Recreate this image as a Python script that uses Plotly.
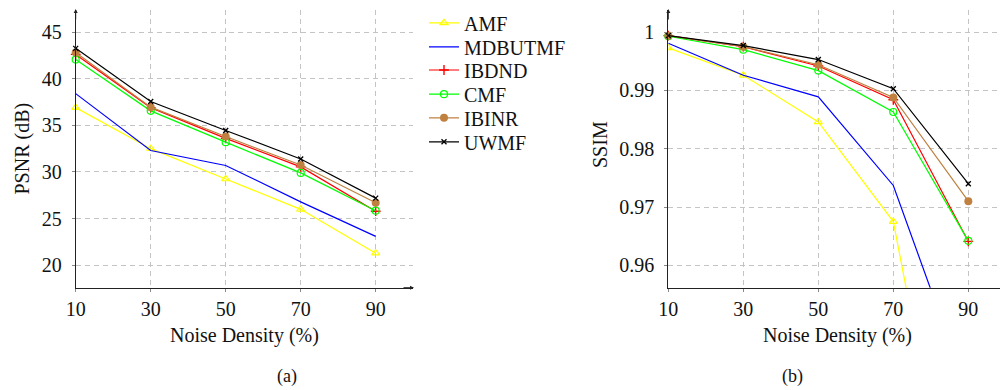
import plotly.graph_objects as go

# ---------------- data ----------------
noise = [10, 30, 50, 70, 90]
methods = ["AMF", "MDBUTMF", "IBDND", "CMF", "IBINR", "UWMF"]

psnr_amf = [36.9, 32.5, 29.25, 26.0, 21.3]
psnr_mdbutmf = [38.4, 32.3, 30.7, 26.8, 23.1]
psnr_ibdnd = [42.6, 36.9, 33.6, 30.55, 25.8]
psnr_cmf = [42.05, 36.55, 33.2, 29.9, 25.85]
psnr_ibinr = [42.8, 36.95, 33.8, 30.75, 26.7]
psnr_uwmf = [43.25, 37.55, 34.45, 31.4, 27.2]

ssim_amf = [0.9973, 0.9926, 0.9846, 0.9675, 0.901]
ssim_mdbutmf = [0.9981, 0.9926, 0.9889, 0.9737, 0.938]
ssim_ibdnd = [0.9994, 0.9975, 0.9942, 0.9884, 0.9641]
ssim_cmf = [0.9993, 0.9970, 0.9934, 0.9863, 0.9642]
ssim_ibinr = [0.9994, 0.9975, 0.9944, 0.9888, 0.9710]
ssim_uwmf = [0.9994, 0.9977, 0.9953, 0.9903, 0.9740]

psnr_ticks = [20, 25, 30, 35, 40, 45]
ssim_ticks = [0.96, 0.97, 0.98, 0.99, 1.0]
ssim_ticktext = ["0.96", "0.97", "0.98", "0.99", "1"]

# ---------------- styles ----------------
colors = {"AMF": "#ffff00", "MDBUTMF": "#0000ff", "IBDND": "#ff0000",
          "CMF": "#00ff00", "IBINR": "#bf8040", "UWMF": "#000000"}
markers = {
    "AMF": dict(symbol="triangle-up-open", size=7, line=dict(width=1.2)),
    "MDBUTMF": None,
    "IBDND": dict(symbol="cross-thin", size=7, line=dict(width=1.4, color="#ff0000")),
    "CMF": dict(symbol="circle-open", size=7, line=dict(width=1.2)),
    "IBINR": dict(symbol="circle", size=8),
    "UWMF": dict(symbol="x-thin", size=5, line=dict(width=1.3, color="#000000")),
}

psnr = [psnr_amf, psnr_mdbutmf, psnr_ibdnd, psnr_cmf, psnr_ibinr, psnr_uwmf]
ssim = [ssim_amf, ssim_mdbutmf, ssim_ibdnd, ssim_cmf, ssim_ibinr, ssim_uwmf]

FONT = "Liberation Serif"
FS = 20
W, H = 1000, 390
legend_ids = ["legend", "legend2", "legend3", "legend4", "legend5", "legend6"]
legend_rows = [22.8, 46.8, 70.0, 94.2, 117.8, 141.8]   # row centres in pixels

fig = go.Figure()

for name, ys, lid in zip(methods, psnr, legend_ids):
    mk = markers[name]
    tr = dict(x=noise, y=ys, name=name, xaxis="x", yaxis="y", legend=lid,
              line=dict(color=colors[name], width=1.2), cliponaxis=False)
    if mk is None:
        tr["mode"] = "lines"
    else:
        tr["mode"] = "lines+markers"
        tr["marker"] = dict(color=colors[name], **mk)
    fig.add_trace(go.Scatter(**tr))

for name, ys in zip(methods, ssim):
    mk = markers[name]
    tr = dict(x=noise, y=ys, name=name, xaxis="x2", yaxis="y2", showlegend=False,
              line=dict(color=colors[name], width=1.2),
              cliponaxis=(name in ("AMF", "MDBUTMF")))
    if mk is None:
        tr["mode"] = "lines"
    else:
        tr["mode"] = "lines+markers"
        tr["marker"] = dict(color=colors[name], **mk)
    fig.add_trace(go.Scatter(**tr))

def px(x):
    return x / W

def py(y):
    return 1 - y / H

ybot, ytop = 287.7, 10
axis_common = dict(showgrid=True, gridcolor="#c4c4c4", griddash="5px,4px", gridwidth=1,
                   zeroline=False, showline=True, linecolor="#222222", linewidth=1,
                   ticks="outside", ticklen=3, tickcolor="#888888", automargin=False,
                   tickfont=dict(family=FONT, size=FS, color="#111111"))

layout = dict(
    width=W, height=H,
    margin=dict(l=0, r=0, t=0, b=0),
    paper_bgcolor="white", plot_bgcolor="white",
    font=dict(family=FONT, size=FS, color="#111111"),
    xaxis=dict(domain=[px(75.7), px(413.2)], range=[10, 100], anchor="y",
               tickvals=noise, ticklabelstandoff=0, **axis_common),
    yaxis=dict(domain=[py(ybot), py(ytop)], range=[17.6, 47.36], anchor="x",
               tickvals=psnr_ticks, ticklabelstandoff=6, **axis_common),
    xaxis2=dict(domain=[px(668.3), 1.0], range=[10, 98.45], anchor="y2",
                tickvals=noise, ticklabelstandoff=0, **axis_common),
    yaxis2=dict(domain=[py(ybot), py(ytop)], range=[0.95616, 1.0038], anchor="x2",
                tickvals=ssim_ticks, ticktext=ssim_ticktext, ticklabelstandoff=6,
                **axis_common),
    showlegend=True,
)
for lid, row in zip(legend_ids, legend_rows):
    layout[lid] = dict(x=px(424), y=py(row), xanchor="left", yanchor="middle",
                       font=dict(family=FONT, size=FS, color="#111111"),
                       bgcolor="rgba(0,0,0,0)", itemwidth=30, borderwidth=0)
fig.update_layout(**layout)

ann = []
def label(text, x, y, angle=0, size=FS):
    ann.append(dict(text=text, x=px(x), y=py(y), xref="paper", yref="paper",
                    xanchor="center", yanchor="middle", showarrow=False,
                    textangle=angle, font=dict(family=FONT, size=size, color="#111111")))

label("Noise Density (%)", 244.5, 335)
label("Noise Density (%)", 837, 335)
label("PSNR (dB)", 21.5, 149, angle=-90)
label("SSIM", 600, 145, angle=-90)
label("(a)", 287, 376.5, size=18)
label("(b)", 792, 376, size=18)

# axis arrows
for (hx, hy, ax, ay) in [(75.7, 9, 0, 12), (414, ybot, -12, 0), (668.3, 9, 0, 12)]:
    ann.append(dict(text="", x=px(hx), y=py(hy), xref="paper", yref="paper",
                    ax=ax, ay=ay, showarrow=True, arrowhead=2, arrowsize=0.8,
                    arrowwidth=1, arrowcolor="#222222"))
fig.update_layout(annotations=ann)

fig.write_html("out.html", config={"displayModeBar": False},
               post_script="document.body.style.margin='0px';document.body.style.overflow='hidden';")
